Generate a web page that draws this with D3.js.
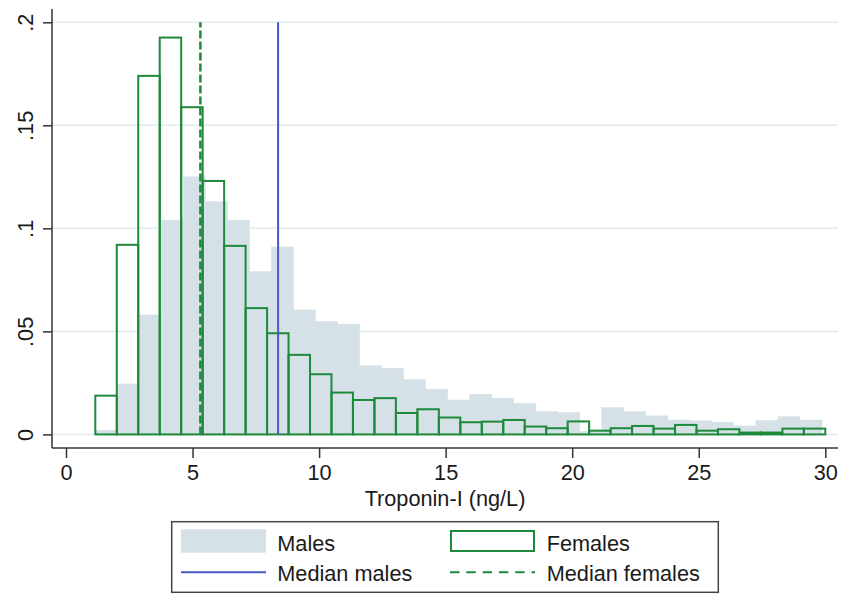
<!DOCTYPE html>
<html>
<head>
<meta charset="utf-8">
<script src="https://cdn.jsdelivr.net/npm/d3@7"></script>
<style>
  body { margin: 0; background: #fff; }
  svg text { font-family: "Liberation Sans", Arial, sans-serif; fill: #1a1a1a; }
</style>
</head>
<body>
<div id="chart"></div>
<script>
// histogram densities
const maleDensity = [
  0.002, 0.0245, 0.058, 0.104, 0.125, 0.113, 0.104, 0.079, 0.091, 0.0604,
  0.0548, 0.0535, 0.0333, 0.0321, 0.0266, 0.0219, 0.0167, 0.0195, 0.0176, 0.0151,
  0.0111, 0.0106, 0.0015, 0.013, 0.011, 0.009, 0.007, 0.0066, 0.0059, 0.0041,
  0.0067, 0.0086, 0.007,
];
const femaleDensity = [
  0.0188, 0.092, 0.174, 0.1926, 0.1588, 0.123, 0.0915, 0.0613, 0.0491, 0.0386,
  0.0292, 0.0203, 0.0167, 0.0176, 0.0104, 0.0122, 0.0082, 0.0059, 0.0062, 0.007,
  0.0038, 0.003, 0.0063, 0.0018, 0.003, 0.0041, 0.0028, 0.0046, 0.0018, 0.0025,
  0.0009, 0.0009, 0.0028, 0.0028,
];

// bin layout of the two histograms (start value, bin width)
const maleBins = { start: 1.158, width: 0.870 };
const femaleBins = { start: 1.158, width: 0.8483 };

// medians
const medianMales = 8.38;
const medianFemales = 5.31;

const xTicks = [0, 5, 10, 15, 20, 25, 30];
const yTicks = [0, 0.05, 0.1, 0.15, 0.2];
const yTickLabels = ["0", ".05", ".1", ".15", ".2"];
const xLabel = "Troponin-I (ng/L)";
const legendItems = ["Males", "Females", "Median males", "Median females"];

const width = 843;
const height = 595;
const plotLeft = 52;
const plotRight = 838;
const plotTop = 9;
const axisY = 448;
const fontSize = 21.7;

const maleFill = "#d5e0e7";
const femaleStroke = "#1d8a3b";
const maleMedianStroke = "#4858bf";
const gridStroke = "#e0eaee";
const axisStroke = "#333";

const x = d3.scaleLinear([0, 30], [66, 825.3]);
const y = d3.scaleLinear([0, 0.2], [434.4, 22.3]);

const svg = d3.select("#chart").append("svg")
  .attr("width", width)
  .attr("height", height)
  .attr("viewBox", [0, 0, width, height]);

// gridlines
svg.append("g").selectAll("line")
  .data(yTicks)
  .join("line")
  .attr("x1", plotLeft)
  .attr("x2", plotRight)
  .attr("y1", (d) => y(d))
  .attr("y2", (d) => y(d))
  .attr("stroke", gridStroke)
  .attr("stroke-width", 1.5);

// turn densities into bins
const toBins = (values, bins) =>
  values.map((v, i) => ({
    x0: bins.start + i * bins.width,
    x1: bins.start + (i + 1) * bins.width,
    v,
  }));

// males: filled bars
svg.append("g").selectAll("rect")
  .data(toBins(maleDensity, maleBins))
  .join("rect")
  .attr("x", (d) => x(d.x0))
  .attr("width", (d) => x(d.x1) - x(d.x0))
  .attr("y", (d) => y(d.v))
  .attr("height", (d) => y(0) - y(d.v))
  .attr("fill", maleFill)
  .attr("stroke", maleFill)
  .attr("stroke-width", 0.5);

// females: outlined bars
svg.append("g").selectAll("rect")
  .data(toBins(femaleDensity, femaleBins))
  .join("rect")
  .attr("x", (d) => x(d.x0))
  .attr("width", (d) => x(d.x1) - x(d.x0))
  .attr("y", (d) => y(d.v))
  .attr("height", (d) => y(0) - y(d.v))
  .attr("fill", "none")
  .attr("stroke", femaleStroke)
  .attr("stroke-width", 2);

// median lines
svg.append("line")
  .attr("x1", x(medianMales)).attr("x2", x(medianMales))
  .attr("y1", y(0)).attr("y2", y(0.2))
  .attr("stroke", maleMedianStroke)
  .attr("stroke-width", 2);

svg.append("line")
  .attr("x1", x(medianFemales)).attr("x2", x(medianFemales))
  .attr("y1", y(0)).attr("y2", y(0.2))
  .attr("stroke", femaleStroke)
  .attr("stroke-width", 2.5)
  .attr("stroke-dasharray", "8,3");

// x axis
const xAxisG = svg.append("g")
  .attr("transform", `translate(0,${axisY})`)
  .call(d3.axisBottom(x).tickValues(xTicks).tickSize(10).tickFormat(d3.format("d")));
xAxisG.select(".domain").remove();
xAxisG.selectAll(".tick line").attr("stroke", axisStroke).attr("stroke-width", 1.5);
xAxisG.selectAll(".tick text")
  .attr("y", 32)
  .attr("dy", 0)
  .attr("font-size", fontSize)
  .attr("font-family", null)
  .attr("fill", null);
xAxisG.append("line")
  .attr("x1", plotLeft).attr("x2", plotRight)
  .attr("stroke", axisStroke)
  .attr("stroke-width", 1.5);

// y axis, labels turned on their side
const yAxisG = svg.append("g")
  .attr("transform", `translate(${plotLeft},0)`)
  .call(d3.axisLeft(y).tickValues(yTicks).tickSize(9).tickFormat((d, i) => yTickLabels[i]));
yAxisG.select(".domain").remove();
yAxisG.selectAll(".tick line").attr("stroke", axisStroke).attr("stroke-width", 1.5);
yAxisG.selectAll(".tick text")
  .attr("transform", "rotate(-90)")
  .attr("x", 0)
  .attr("y", -19)
  .attr("dy", 0)
  .attr("text-anchor", "middle")
  .attr("font-size", fontSize)
  .attr("font-family", null)
  .attr("fill", null);
yAxisG.append("line")
  .attr("y1", plotTop).attr("y2", axisY)
  .attr("stroke", axisStroke)
  .attr("stroke-width", 1.5);

// axis title
svg.append("text")
  .attr("x", (plotLeft + plotRight) / 2)
  .attr("y", 506)
  .attr("text-anchor", "middle")
  .attr("font-size", fontSize)
  .text(xLabel);

// legend
const legend = svg.append("g");
legend.append("rect")
  .attr("x", 171.7).attr("y", 521.7)
  .attr("width", 546.6).attr("height", 70.6)
  .attr("fill", "#fff")
  .attr("stroke", "#444")
  .attr("stroke-width", 1.5);

legend.append("rect")
  .attr("x", 181).attr("y", 529.3)
  .attr("width", 85).attr("height", 23.4)
  .attr("fill", maleFill);
legend.append("rect")
  .attr("x", 451).attr("y", 531)
  .attr("width", 83).attr("height", 20)
  .attr("fill", "none")
  .attr("stroke", femaleStroke)
  .attr("stroke-width", 2);
legend.append("line")
  .attr("x1", 181).attr("x2", 266)
  .attr("y1", 572.3).attr("y2", 572.3)
  .attr("stroke", maleMedianStroke)
  .attr("stroke-width", 2);
legend.append("line")
  .attr("x1", 450).attr("x2", 535)
  .attr("y1", 572.3).attr("y2", 572.3)
  .attr("stroke", femaleStroke)
  .attr("stroke-width", 2)
  .attr("stroke-dasharray", "9.5,6.8");

const legendText = [
  { x: 277.3, y: 551 },
  { x: 546.7, y: 551 },
  { x: 277.3, y: 581 },
  { x: 546.7, y: 581 },
];
legend.selectAll("text.item")
  .data(legendItems)
  .join("text")
  .attr("class", "item")
  .attr("x", (d, i) => legendText[i].x)
  .attr("y", (d, i) => legendText[i].y)
  .attr("font-size", fontSize)
  .text((d) => d);
</script>
</body>
</html>
